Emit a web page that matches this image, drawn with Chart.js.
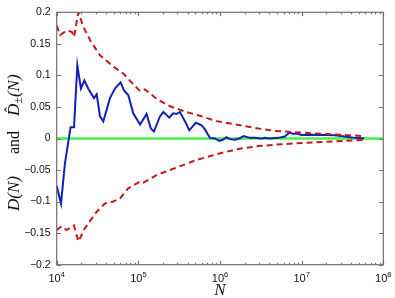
<!DOCTYPE html>
<html>
<head>
<meta charset="utf-8">
<script src="https://cdn.jsdelivr.net/npm/chart.js@4.4.1/dist/chart.umd.min.js"></script>
<style>
html, body { margin: 0; padding: 0; background: #fff; }
</style>
</head>
<body>
<canvas id="grafico" width="395" height="298"></canvas>
<script>
// D(N) (blue line)
const nD = [1.00e4, 1.13e4, 1.26e4, 1.48e4, 1.63e4, 1.79e4, 1.98e4, 2.18e4, 2.44e4, 2.86e4,
  3.09e4, 3.39e4, 3.72e4, 4.49e4, 5.17e4, 6.07e4, 6.66e4, 7.52e4, 8.66e4, 1.05e5,
  1.26e5, 1.42e5, 1.55e5, 1.84e5, 2.02e5, 2.39e5, 2.67e5, 2.94e5, 3.23e5, 3.72e5,
  4.20e5, 5.07e5, 5.95e5, 6.53e5, 7.52e5, 8.66e5, 9.78e5, 1.08e6, 1.20e6, 1.32e6,
  1.52e6, 1.72e6, 1.96e6, 2.32e6, 2.67e6, 3.23e6, 3.55e6, 4.08e6, 5.16e6, 6.22e6,
  7.03e6, 7.87e6, 8.66e6, 9.98e6, 1.32e7, 1.92e7, 2.55e7, 3.38e7, 4.48e7, 5.82e7];
const valD = [-0.075, -0.103, -0.040, 0.018, 0.018, 0.116, 0.079, 0.092, 0.079, 0.064,
  0.070, 0.035, 0.027, 0.064, 0.079, 0.089, 0.076, 0.069, 0.040, 0.022,
  0.039, 0.016, 0.011, 0.035, 0.042, 0.033, 0.040, 0.039, 0.042, 0.0275,
  0.013, 0.025, 0.021, 0.0144, 0.001, 0.000, -0.004, -0.002, 0.002, -0.001,
  -0.002, 0.000, 0.004, 0.001, 0.001, 0.000, 0.001, 0.000, 0.001, 0.003,
  0.009, 0.0075, 0.008, 0.0055, 0.006, 0.0055, 0.005, 0.003, 0.001, 0.000];

// upper bound D+ (red dashed)
const nUp = [1.00e4, 1.10e4, 1.32e4, 1.53e4, 1.63e4, 1.84e4, 2.12e4, 2.56e4, 3.39e4, 4.93e4,
  6.53e4, 8.66e4, 1.05e5, 1.20e5, 1.67e5, 2.44e5, 3.90e5, 5.67e5, 9.08e5, 1.60e6,
  2.94e6, 4.70e6, 1.75e7, 5.46e7];
const valUp = [0.179, 0.164, 0.171, 0.169, 0.161, 0.200, 0.177, 0.156, 0.132, 0.114,
  0.103, 0.086, 0.075, 0.078, 0.063, 0.051, 0.042, 0.036, 0.0275, 0.022,
  0.016, 0.012, 0.0075, 0.004];

// lower bound D- (red dashed)
const nLow = [1.00e4, 1.15e4, 1.32e4, 1.63e4, 1.84e4, 2.22e4, 3.09e4, 3.90e4, 4.93e4, 5.96e4,
  7.52e4, 1.05e5, 1.15e5, 1.67e5, 2.67e5, 5.18e5, 9.08e5, 1.60e6, 2.94e6, 5.68e6,
  1.75e7, 5.60e7];
const valLow = [-0.145, -0.139, -0.145, -0.138, -0.163, -0.142, -0.116, -0.103, -0.100, -0.095,
  -0.079, -0.068, -0.070, -0.058, -0.048, -0.034, -0.025, -0.017, -0.012, -0.009,
  -0.0055, -0.0024];

// zero reference line (green)
const nZero = [1e4, 1e8];
const valZero = [0, 0];

const yTicks = [-0.2, -0.15, -0.1, -0.05, 0, 0.05, 0.1, 0.15, 0.2];
const xExps = [4, 5, 6, 7, 8];

const puntos = (xs, ys) => xs.map((n, i) => ({ x: n, y: ys[i] }));

// ejes estilo matlab: caja, ticks hacia dentro, etiquetas 10^k
const ejes = {
  id: 'ejes',
  afterDraw(chart) {
    const { ctx, chartArea: a, scales: { x, y } } = chart;
    ctx.save();
    ctx.strokeStyle = '#707070';
    ctx.lineWidth = 1.2;
    ctx.strokeRect(a.left, a.top, a.right - a.left, a.bottom - a.top);

    ctx.beginPath();
    yTicks.forEach(v => {
      const py = Math.round(y.getPixelForValue(v)) + 0.5;
      ctx.moveTo(a.left, py); ctx.lineTo(a.left + 4, py);
      ctx.moveTo(a.right, py); ctx.lineTo(a.right - 4, py);
    });
    for (let e = 4; e <= 8; e++) {
      for (let m = 1; m <= (e === 8 ? 1 : 9); m++) {
        const px = Math.round(x.getPixelForValue(m * Math.pow(10, e))) + 0.5;
        const len = m === 1 ? 4 : 2;
        ctx.moveTo(px, a.bottom); ctx.lineTo(px, a.bottom - len);
        ctx.moveTo(px, a.top); ctx.lineTo(px, a.top + len);
      }
    }
    ctx.stroke();

    ctx.fillStyle = '#111';
    ctx.textBaseline = 'alphabetic';
    ctx.textAlign = 'left';
    const fBase = '11px "Liberation Sans"';
    const fExp = '7.5px "Liberation Sans"';
    xExps.forEach(e => {
      const px = x.getPixelForValue(Math.pow(10, e));
      ctx.font = fBase;
      const w1 = ctx.measureText('10').width;
      ctx.font = fExp;
      const w2 = ctx.measureText(String(e)).width;
      const x0 = px - (w1 + w2) / 2;
      ctx.font = fBase;
      ctx.fillText('10', x0, 281.5);
      ctx.font = fExp;
      ctx.fillText(String(e), x0 + w1, 277);
    });

    // N
    ctx.font = 'italic 17px "Liberation Serif"';
    ctx.textAlign = 'center';
    ctx.fillText('N', (a.left + a.right) / 2, 294.5);

    // titulo eje y (se dibuja de abajo hacia arriba)
    const it = 'italic 17px "Liberation Serif"';
    const trozos = [
      { t: 'D(N)', f: it, dy: 0, gap: 22 },
      { t: 'and', f: '16px "Liberation Serif"', dy: 0, gap: 15 },
      { t: 'D\u0302', f: it, dy: 0, gap: 0 },
      { t: '\u00b1', f: '12px "Liberation Serif"', dy: 3, gap: 0 },
      { t: '(N)', f: it, dy: 0, gap: 0 }
    ];
    ctx.translate(18.5, 211);
    ctx.rotate(-Math.PI / 2);
    ctx.textAlign = 'left';
    let cx = 0;
    trozos.forEach(p => {
      ctx.font = p.f;
      ctx.fillText(p.t, cx, p.dy);
      cx += ctx.measureText(p.t).width + p.gap;
    });
    ctx.restore();
  }
};

const ctx = document.getElementById('grafico').getContext('2d');

new Chart(ctx, {
  type: 'line',
  data: {
    datasets: [
      { data: puntos(nUp, valUp), borderColor: '#c21a1a', borderWidth: 2, borderDash: [6, 4], order: 0 },
      { data: puntos(nLow, valLow), borderColor: '#c21a1a', borderWidth: 2, borderDash: [6, 4], order: 0 },
      { data: puntos(nD, valD), borderColor: '#1020b8', borderWidth: 2, order: 1 },
      { data: puntos(nZero, valZero), borderColor: '#44f044', borderWidth: 2.5, order: 2 }
    ]
  },
  options: {
    responsive: false,
    animation: false,
    devicePixelRatio: 1,
    elements: { point: { radius: 0 }, line: { tension: 0 } },
    layout: { padding: { left: 0, top: 10, right: 11.7, bottom: 0 } },
    plugins: { legend: { display: false }, tooltip: { enabled: false } },
    scales: {
      x: {
        type: 'logarithmic',
        min: 1e4,
        max: 1e8,
        grid: { display: false, drawTicks: false },
        border: { display: false },
        ticks: { display: false },
        afterFit: s => { s.height = 33.3; }
      },
      y: {
        min: -0.2,
        max: 0.2,
        grid: { display: false, drawTicks: false },
        border: { display: false },
        afterBuildTicks: s => { s.ticks = yTicks.map(v => ({ value: v })); },
        ticks: {
          padding: 6,
          color: '#111',
          font: { family: 'Liberation Sans', size: 10.5 },
          callback: v => v === 0 ? '0' : (v < 0 ? '\u2212' : '') + String(+Math.abs(v).toFixed(2))
        },
        afterFit: s => { s.width = 56.7; }
      }
    }
  },
  plugins: [ejes]
});
</script>
</body>
</html>
